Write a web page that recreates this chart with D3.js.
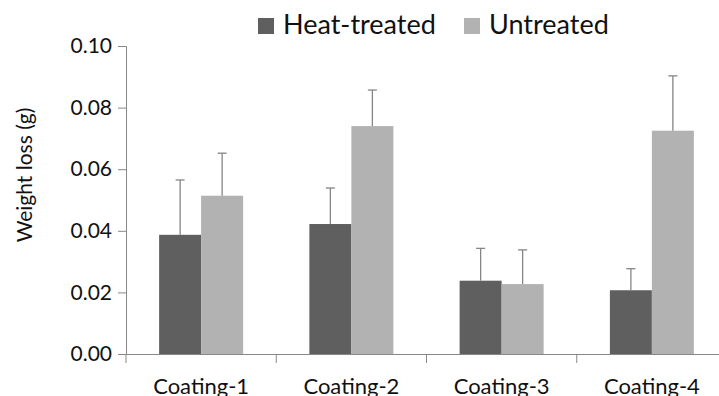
<!DOCTYPE html>
<html>
<head>
<meta charset="utf-8">
<script src="https://cdn.jsdelivr.net/npm/d3@7"></script>
<style>
  body { margin: 0; background: #fff; }
  svg text { font-family: Lato, "Open Sans", sans-serif; fill: #111; }
</style>
</head>
<body>
<svg id="chart" width="719" height="396"></svg>
<script>
// chart data
var categories = ['Coating-1', 'Coating-2', 'Coating-3', 'Coating-4'];
var seriesNames = ['Heat-treated', 'Untreated'];
var heatTreated = [0.0387, 0.0422, 0.0238, 0.0207];
var heatTreatedErr = [0.0178, 0.0117, 0.0105, 0.0070];
var untreated = [0.0514, 0.0740, 0.0227, 0.0725];
var untreatedErr = [0.0138, 0.0117, 0.0111, 0.0178];
var yTicks = [0, 0.02, 0.04, 0.06, 0.08, 0.10];

var colors = ['#5f5f5f', '#b2b2b2'];

var svg = d3.select('#chart');

// plot area
var plotLeft = 126, plotRight = 727, plotTop = 46, plotBottom = 354;

var x = d3.scaleBand().domain(categories).range([plotLeft, plotRight]);
var y = d3.scaleLinear().domain([0, 0.1]).range([plotBottom, plotTop]);
var barW = 42;

// y axis
var yAxis = svg.append('g')
    .attr('transform', 'translate(' + plotLeft + ',0)')
    .call(d3.axisLeft(y).tickValues(yTicks).tickFormat(d3.format('.2f')).tickSizeOuter(0).tickSize(8).tickPadding(6));
yAxis.select('.domain').attr('stroke', '#888');
yAxis.selectAll('.tick line').attr('stroke', '#888');
yAxis.selectAll('.tick text').style('font-size', '21px').attr('fill', '#111');

// bars
var series = [
    {vals: heatTreated, errs: heatTreatedErr, off: -barW},
    {vals: untreated, errs: untreatedErr, off: 0}
];

series.forEach(function(s, i) {
    var g = svg.append('g');
    categories.forEach(function(c, j) {
        var cx = x(c) + x.bandwidth() / 2 + s.off;
        g.append('rect')
            .attr('x', cx).attr('width', barW)
            .attr('y', y(s.vals[j])).attr('height', y(0) - y(s.vals[j]))
            .attr('fill', colors[i]);
        var mx = cx + barW / 2;
        var errTop = y(s.vals[j] + s.errs[j]);
        g.append('line').attr('x1', mx).attr('x2', mx)
            .attr('y1', y(s.vals[j])).attr('y2', errTop)
            .attr('stroke', '#858585').attr('stroke-width', 1.3);
        g.append('line').attr('x1', mx - 4.5).attr('x2', mx + 4.5)
            .attr('y1', errTop).attr('y2', errTop)
            .attr('stroke', '#858585').attr('stroke-width', 1.3);
    });
});

// x axis
var xAxis = svg.append('g')
    .attr('transform', 'translate(0,' + plotBottom + ')')
    .call(d3.axisBottom(x).tickSize(0).tickPadding(24));
xAxis.select('.domain').attr('stroke', '#888');
xAxis.selectAll('.tick text').style('font-size', '22px').attr('fill', '#111');
// ticks between categories
svg.append('g').selectAll('line')
    .data(categories.concat(['end']))
    .join('line')
    .attr('x1', function(d, i) { return plotLeft + i * x.bandwidth(); })
    .attr('x2', function(d, i) { return plotLeft + i * x.bandwidth(); })
    .attr('y1', plotBottom).attr('y2', plotBottom + 9)
    .attr('stroke', '#888');

// y label
svg.append('text')
    .attr('transform', 'translate(32,175) rotate(-90)')
    .attr('text-anchor', 'middle')
    .style('font-size', '21px')
    .text('Weight  loss (g)');

// legend
var legX = [258, 464];
seriesNames.forEach(function(n, i) {
    svg.append('rect').attr('x', legX[i]).attr('y', 18).attr('width', 16).attr('height', 16).attr('fill', colors[i]);
    svg.append('text').attr('x', legX[i] + 25).attr('y', 34)
        .style('font-size', '27px').text(n);
});
</script>
</body>
</html>
